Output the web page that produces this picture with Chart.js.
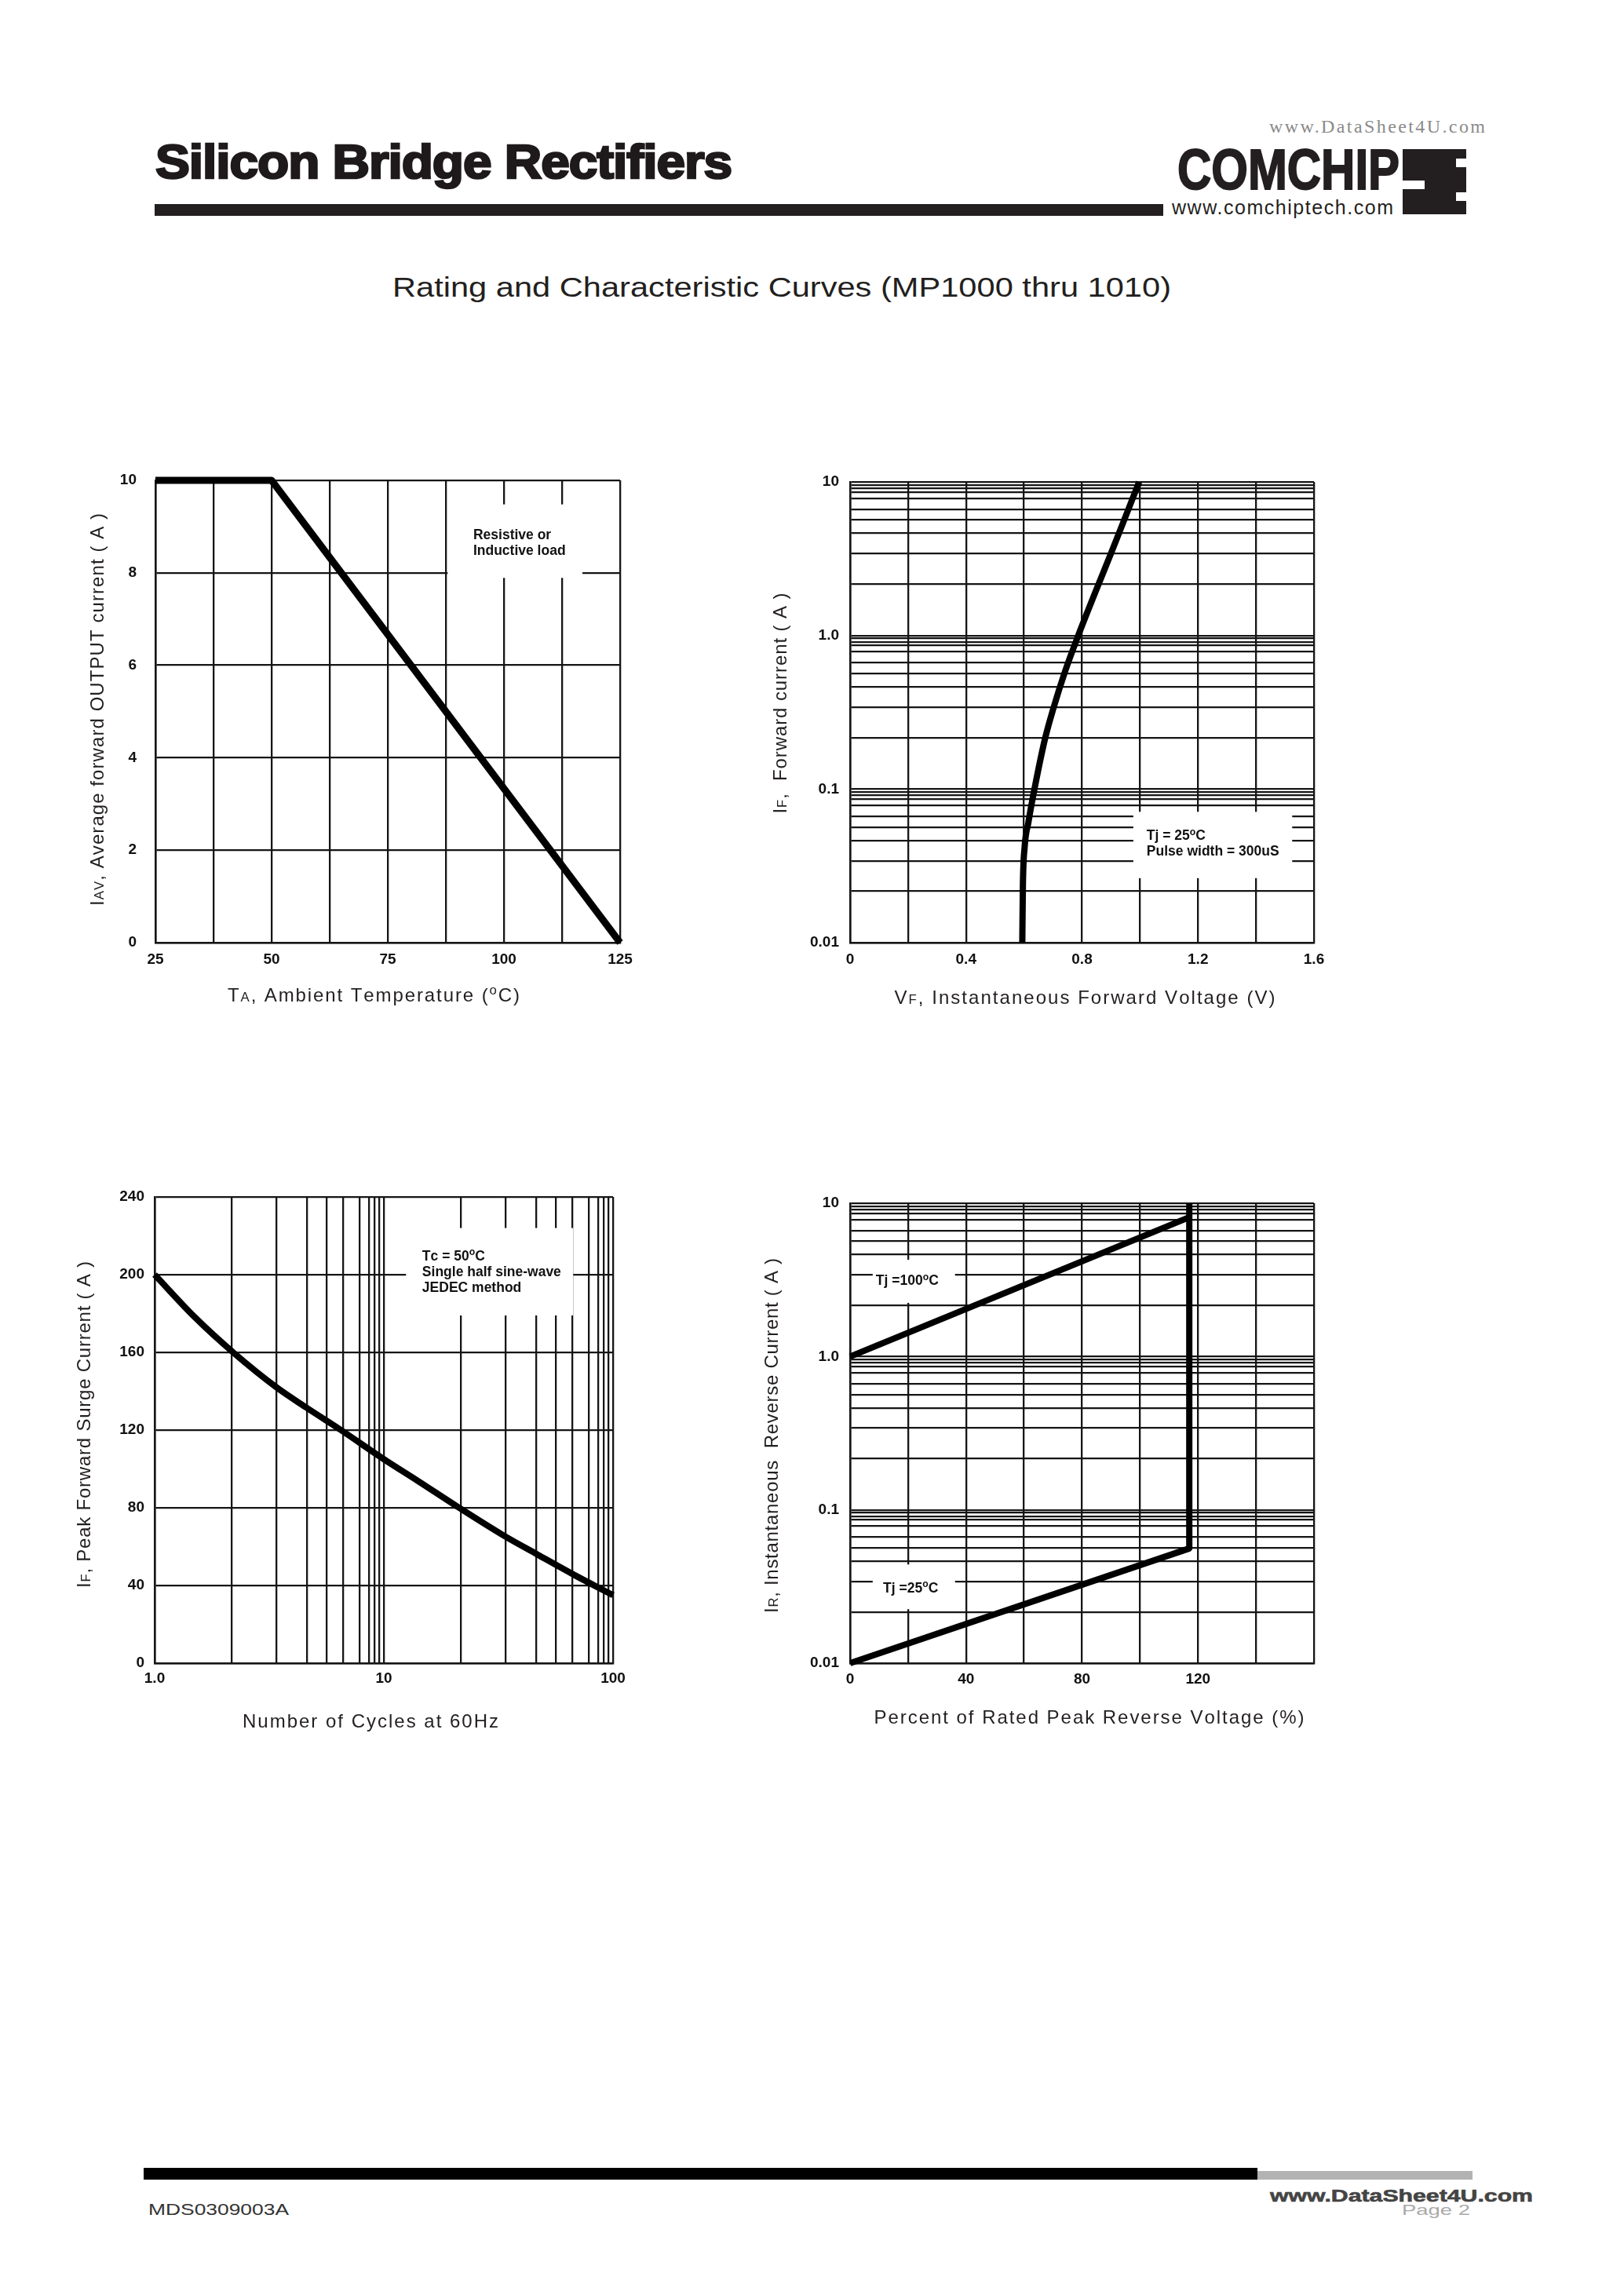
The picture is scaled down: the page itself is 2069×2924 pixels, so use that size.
<!DOCTYPE html>
<html>
<head>
<meta charset="utf-8">
<title>Silicon Bridge Rectifiers - MP1000 thru 1010</title>
<script src="https://cdn.jsdelivr.net/npm/chart.js@4.4.1/dist/chart.umd.min.js"></script>
<style>
  html, body { margin: 0; padding: 0; background: #fff; }
  body { position: relative; width: 2069px; height: 2924px; overflow: hidden;
         font-family: "Liberation Sans", Arial, sans-serif; color: #231f20; }
  .txt { position: absolute; white-space: nowrap; line-height: 1; transform-origin: 0 0; }
  .box { position: absolute; }
  canvas { position: absolute; }
</style>
</head>
<body>

<!-- page header -->
<div class="txt" style="left:1617px;top:149px;font-family:'Liberation Serif',serif;font-size:24px;color:#8a8a8a" data-w="275" data-fit="space">www.DataSheet4U.com</div>
<div class="txt" style="left:198px;top:175px;font-size:62px;font-weight:bold;letter-spacing:-1px;color:#1e1a1b;-webkit-text-stroke:2.6px #1e1a1b" data-w="734">Silicon Bridge Rectifiers</div>
<div class="box" style="left:197px;top:260px;width:1285px;height:15px;background:#231f20"></div>
<div class="txt" style="left:1500px;top:179px;font-size:73px;font-weight:bold;color:#231f20;-webkit-text-stroke:2px #231f20" data-w="283">COMCHIP</div>
<div class="txt" style="left:1493px;top:252px;font-size:25px;color:#231f20" data-w="282" data-fit="space">www.comchiptech.com</div>
<div class="box" style="left:1787px;top:190px;width:81px;height:83px;background:#231f20"></div>
<div class="box" style="left:1787px;top:230px;width:28px;height:11px;background:#fff"></div>
<div class="box" style="left:1855px;top:202px;width:13px;height:11px;background:#fff"></div>
<div class="box" style="left:1855px;top:245px;width:13px;height:11px;background:#fff"></div>

<div class="txt" style="left:500px;top:348px;font-size:35px;color:#231f20" data-w="992">Rating and Characteristic Curves (MP1000 thru 1010)</div>

<canvas id="derating"></canvas>
<canvas id="forward"></canvas>
<canvas id="surge"></canvas>
<canvas id="reverse"></canvas>

<!-- page footer -->
<div class="box" style="left:183px;top:2762px;width:1419px;height:15px;background:#000"></div>
<div class="box" style="left:1602px;top:2766px;width:274px;height:11px;background:#b3b3b3"></div>
<div class="txt" style="left:189px;top:2804px;font-size:21px;color:#333" data-w="179">MDS0309003A</div>
<div class="txt" style="left:1786px;top:2806px;font-size:19px;color:#aaa" data-w="87">Page 2</div>
<div class="txt" style="left:1618px;top:2787px;font-size:22px;font-weight:bold;color:#444;-webkit-text-stroke:0.6px #444;text-shadow:0 0 3px #fff,0 0 3px #fff" data-w="335">www.DataSheet4U.com</div>

<script>
const ink = '#151515';
const sans = '"Liberation Sans", Arial, Helvetica, sans-serif';

// Fig 1 - forward current derating
const taTicks = ['25', '50', '75', '100', '125'];
const iavTicks = ['0', '2', '4', '6', '8', '10'];
const taDegC = [25, 50, 125];
const iavAmps = [10, 10, 0];

// Fig 2 - forward characteristic, Tj = 25C
const vfTicks = ['0', '0.4', '0.8', '1.2', '1.6'];
const ampDecades = ['0.01', '0.1', '1.0', '10'];
const vfVolts = [0.594, 0.596, 0.602, 0.615, 0.636, 0.673, 0.702, 0.741, 0.787, 0.850, 0.900, 0.944, 0.997];
const ifAmps = [0.01, 0.023, 0.0416, 0.0606, 0.1, 0.215, 0.339, 0.58, 1.0, 2.0, 3.43, 5.56, 10];

// Fig 3 - peak forward surge current
const cycleTicks = ['1.0', '10', '100'];
const surgeTicks = ['0', '40', '80', '120', '160', '200', '240'];
const cycles = [1, 1.5, 2.2, 3.4, 4.6, 6.5, 10, 14, 21.3, 33, 47, 68, 100];
const surgeAmps = [200, 178, 160, 142, 131.5, 120, 105, 94, 80, 66, 55.8, 45.3, 35];

// Fig 4 - reverse leakage
const vrTicks = ['0', '40', '80', '120'];
const vrPct100 = [0, 117];
const irAmps100 = [1.0, 8.1];
const vrPct25 = [0, 117, 117];
const irAmps25 = [0.01, 0.056, 10];

// rulings of the printed log paper inside one decade (not a true log ruling)
const logPaper = [2.16, 3.41, 4.63, 5.65, 6.64, 7.82, 8.61, 9.08, 9.55];

const pts = (xs, ys) => xs.map((x, i) => ({x: x, y: ys[i]}));

// label only the values listed, blank for the rest of the rulings
const pick = list => v => {
  const hit = list.find(s => Math.abs(parseFloat(s) - v) <= 1e-6 * Math.max(1, Math.abs(v)));
  return hit === undefined ? '' : hit;
};

function paperTicks(scale) {
  const out = [];
  for (let d = scale.min; d < scale.max * 0.999; d *= 10) {
    out.push(d);
    logPaper.forEach(m => out.push(d * m));
  }
  out.push(scale.max);
  scale.ticks = out.map(v => ({value: v}));
}

function parseRich(str) {
  const segs = [];
  const re = /([_^])\{([^}]*)\}/g;
  let last = 0, m;
  while ((m = re.exec(str))) {
    if (m.index > last) segs.push({t: str.slice(last, m.index), k: ''});
    segs.push({t: m[2], k: m[1]});
    last = re.lastIndex;
  }
  if (last < str.length) segs.push({t: str.slice(last), k: ''});
  return segs;
}

// draws text with small (_{..}) and raised (^{..}) parts, optionally stretched to a length
function drawRich(ctx, str, x, y, o) {
  const size = o.size;
  const weight = o.weight || 'normal';
  const glyphs = [];
  parseRich(str).forEach(s => {
    const font = weight + ' ' + (s.k ? size * 0.7 : size) + 'px ' + sans;
    ctx.font = font;
    for (const ch of s.t) {
      glyphs.push({ch: ch, font: font, w: ctx.measureText(ch).width, dy: s.k === '^' ? -size * 0.38 : 0});
    }
  });
  const natural = glyphs.reduce((a, g) => a + g.w, 0);
  const gap = o.len ? (o.len - natural) / (glyphs.length - 1) : 0;
  const total = natural + gap * (glyphs.length - 1);
  ctx.save();
  ctx.translate(x, y);
  if (o.rotate) ctx.rotate(-Math.PI / 2);
  ctx.fillStyle = o.color || '#231f20';
  ctx.textAlign = 'left';
  ctx.textBaseline = 'alphabetic';
  let cx = o.align === 'left' ? 0 : -total / 2;
  const base = size * 0.36;
  glyphs.forEach(g => {
    ctx.font = g.font;
    ctx.fillText(g.ch, cx, base + g.dy);
    cx += g.w + gap;
  });
  ctx.restore();
}

const paperPlugin = {
  id: 'paper',
  beforeDatasetsDraw(chart, args, opts) {
    const ctx = chart.ctx, xs = chart.scales.x, ys = chart.scales.y;
    (opts.notes || []).forEach(n => {
      const x0 = xs.getPixelForValue(n.box[0]), x1 = xs.getPixelForValue(n.box[1]);
      const y0 = ys.getPixelForValue(n.box[2]), y1 = ys.getPixelForValue(n.box[3]);
      ctx.save();
      ctx.fillStyle = '#fff';
      ctx.fillRect(Math.min(x0, x1), Math.min(y0, y1), Math.abs(x1 - x0), Math.abs(y1 - y0));
      ctx.restore();
      const tx = xs.getPixelForValue(n.at[0]), ty = ys.getPixelForValue(n.at[1]);
      n.lines.forEach((line, i) => {
        drawRich(ctx, line, tx, ty + i * 20, {size: 17.5, weight: 'bold', align: 'left', color: '#111'});
      });
    });
  },
  afterDraw(chart, args, opts) {
    const a = chart.chartArea, ctx = chart.ctx;
    if (opts.xTitle) {
      const t = opts.xTitle;
      drawRich(ctx, t.text, (a.left + a.right) / 2 + t.dx, a.bottom + t.dy, {size: 24, len: t.len});
    }
    if (opts.yTitle) {
      const t = opts.yTitle;
      drawRich(ctx, t.text, a.left - t.dx, (a.top + a.bottom) / 2 + t.dy, {size: 24, len: t.len, rotate: true});
    }
  }
};

function axis(type, min, max, labels, pad, extra) {
  const s = {
    type: type, min: min, max: max,
    border: {display: true, color: ink, width: 2.5},
    grid: {color: ink, lineWidth: 2.3, drawTicks: false},
    ticks: {color: '#111', font: {family: sans, size: 19, weight: 'bold'},
            autoSkip: false, maxRotation: 0, padding: pad, callback: pick(labels)}
  };
  if (type === 'logarithmic') s.afterBuildTicks = paperTicks;
  if (extra && extra.step) s.ticks.stepSize = extra.step;
  return s;
}

function curve(data, width, smooth) {
  const ds = {data: data, borderColor: '#000', borderWidth: width, pointRadius: 0,
              tension: 0, clip: false, borderJoinStyle: 'round', fill: false};
  if (smooth) {
    ds.cubicInterpolationMode = 'monotone';
    ds.tension = 0.4;
  }
  return ds;
}

function plate(id, frame, plot, datasets, xs, ys, paper) {
  const cv = document.getElementById(id);
  cv.width = frame.w;
  cv.height = frame.h;
  cv.style.left = frame.x + 'px';
  cv.style.top = frame.y + 'px';
  xs.afterFit = s => { s.height = frame.y + frame.h - plot.B; };
  ys.afterFit = s => { s.width = plot.L - frame.x; };
  new Chart(cv, {
    type: 'line',
    data: {datasets: datasets},
    options: {
      responsive: false,
      animation: false,
      devicePixelRatio: 1,
      layout: {padding: {left: 0, bottom: 0, top: plot.T - frame.y, right: frame.x + frame.w - plot.R}},
      scales: {x: xs, y: ys},
      plugins: {legend: {display: false}, tooltip: {enabled: false}, paper: paper}
    },
    plugins: [paperPlugin]
  });
}

function build() {
  document.querySelectorAll('[data-w]').forEach(el => {
    const target = +el.dataset.w;
    const nat = el.getBoundingClientRect().width;
    if (el.dataset.fit === 'space') {
      const cur = parseFloat(getComputedStyle(el).letterSpacing) || 0;
      el.style.letterSpacing = (cur + (target - nat) / (el.textContent.length - 1)) + 'px';
    } else {
      el.style.transform = 'scaleX(' + (target / nat) + ')';
    }
  });

  plate('derating', {x: 90, y: 560, w: 760, h: 740}, {L: 198, T: 612, R: 790, B: 1201},
    [curve(pts(taDegC, iavAmps), 9)],
    axis('linear', 25, 125, taTicks, 10, {step: 12.5}),
    axis('linear', 0, 10, iavTicks, 24, {step: 2}),
    {
      notes: [{box: [87.9, 116.9, 9.48, 7.89], at: [93.4, 8.83], lines: ['Resistive or', 'Inductive load']}],
      xTitle: {text: 'T_{A}, Ambient Temperature (^{o}C)', dx: -18, dy: 66, len: 372},
      yTitle: {text: 'I_{AV}, Average forward OUTPUT current ( A )', dx: 75, dy: -2.5, len: 500}
    });

  plate('forward', {x: 960, y: 560, w: 760, h: 740}, {L: 1083, T: 614, R: 1674, B: 1201},
    [curve(pts(vfVolts, ifAmps), 8, true)],
    axis('linear', 0, 1.6, vfTicks, 10, {step: 0.2}),
    axis('logarithmic', 0.01, 10, ampDecades, 14),
    {
      notes: [{box: [0.977, 1.525, 0.0711, 0.0263], at: [1.023, 0.0502], lines: ['Tj = 25^{o}C', 'Pulse width = 300uS']}],
      xTitle: {text: 'V_{F}, Instantaneous Forward Voltage (V)', dx: 3.5, dy: 69, len: 485},
      yTitle: {text: 'I_{F},  Forward current ( A )', dx: 90, dy: -11.5, len: 281}
    });

  plate('surge', {x: 90, y: 1480, w: 760, h: 760}, {L: 197, T: 1525, R: 781, B: 2119},
    [curve(pts(cycles, surgeAmps), 8, true)],
    axis('logarithmic', 1, 100, cycleTicks, 8),
    axis('linear', 0, 240, surgeTicks, 13, {step: 40}),
    {
      notes: [{box: [12.5, 67, 224, 179], at: [14.7, 210], lines: ['Tc = 50^{o}C', 'Single half sine-wave', 'JEDEC method']}],
      xTitle: {text: 'Number of Cycles at 60Hz', dx: -17, dy: 73, len: 326},
      yTitle: {text: 'I_{F}, Peak Forward Surge Current ( A )', dx: 91, dy: -7, len: 416}
    });

  plate('reverse', {x: 960, y: 1480, w: 760, h: 760}, {L: 1083, T: 1533, R: 1674, B: 2119},
    [curve(pts(vrPct100, irAmps100), 8), curve(pts(vrPct25, irAmps25), 8)],
    axis('linear', 0, 160, vrTicks, 9, {step: 20}),
    axis('logarithmic', 0.01, 10, ampDecades, 14),
    {
      notes: [
        {box: [7.8, 36.2, 4.28, 2.24], at: [8.9, 3.15], lines: ['Tj =100^{o}C']},
        {box: [7.8, 36.2, 0.044, 0.0225], at: [11.4, 0.0311], lines: ['Tj =25^{o}C']}
      ],
      xTitle: {text: 'Percent of Rated Peak Reverse Voltage (%)', dx: 9, dy: 68, len: 548},
      yTitle: {text: 'I_{R}, Instantaneous  Reverse Current ( A )', dx: 101, dy: 3, len: 452}
    });
}

if (document.fonts && document.fonts.ready) {
  document.fonts.ready.then(build);
} else {
  window.addEventListener('load', build);
}
</script>
</body>
</html>
